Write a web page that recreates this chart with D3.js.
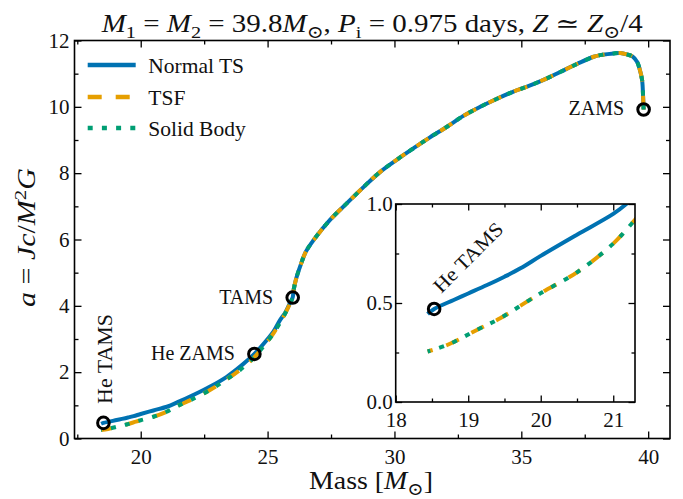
<!DOCTYPE html>
<html>
<head>
<meta charset="utf-8">
<script src="https://cdn.jsdelivr.net/npm/d3@7"></script>
<style>
  html, body { margin: 0; padding: 0; background: #fff; }
  svg { display: block; font-family: "Liberation Serif", "DejaVu Serif", serif; }
  text { white-space: pre; }
</style>
</head>
<body>
<svg id="chart" width="683" height="499"></svg>
<script>
// Shared track from ZAMS through the main sequence to TAMS (mass in Msun, a = Jc/M^2 G)
const upperMass = [39.82, 39.80, 39.76, 39.66, 39.56, 39.38, 39.16, 38.90, 38.64, 38.20, 37.85, 37.19, 36.53, 36.01, 35.30, 34.69, 34.00, 33.38, 32.70, 32.07, 31.40, 30.75, 30.10, 29.44, 28.78, 28.12, 27.46, 26.81, 26.50, 26.28, 26.12, 26.02, 25.99];
const upperA    = [9.92, 10.30, 10.81, 11.15, 11.36, 11.52, 11.58, 11.62, 11.61, 11.57, 11.51, 11.29, 11.05, 10.86, 10.63, 10.46, 10.23, 10.00, 9.72, 9.40, 9.08, 8.75, 8.41, 8.04, 7.58, 7.09, 6.59, 5.98, 5.62, 5.18, 4.80, 4.45, 4.25];

// Post-TAMS branch, Normal TS
const normalTSMass = [25.89, 25.70, 25.49, 25.23, 24.97, 24.48, 24.00, 23.39, 22.70, 22.07, 21.50, 21.18, 21.00, 20.50, 20.00, 19.72, 19.50, 19.26, 19.00, 18.80, 18.53, 18.44];
const normalTSA    = [4.10, 3.80, 3.57, 3.22, 2.97, 2.55, 2.22, 1.86, 1.55, 1.31, 1.11, 1.00, 0.950, 0.845, 0.738, 0.675, 0.633, 0.591, 0.548, 0.515, 0.470, 0.444];

// Post-TAMS branch, TSF
const tsfMass = [25.89, 25.76, 25.50, 25.23, 24.97, 24.70, 24.48, 23.92, 23.30, 22.73, 22.00, 21.50, 21.30, 21.00, 20.50, 20.00, 19.81, 19.44, 19.12, 18.71, 18.44];
const tsfA    = [4.08, 3.87, 3.50, 3.17, 2.90, 2.65, 2.45, 2.07, 1.74, 1.46, 1.17, 1.00, 0.920, 0.800, 0.655, 0.550, 0.507, 0.423, 0.364, 0.288, 0.255];

// Post-TAMS branch, Solid Body (indistinguishable from TSF)
const solidMass = [25.89, 25.76, 25.50, 25.23, 24.97, 24.70, 24.48, 23.92, 23.30, 22.73, 22.00, 21.50, 21.30, 21.00, 20.50, 20.00, 19.81, 19.44, 19.12, 18.71, 18.44];
const solidA    = [4.08, 3.87, 3.50, 3.17, 2.90, 2.65, 2.45, 2.07, 1.74, 1.46, 1.17, 1.00, 0.920, 0.800, 0.655, 0.550, 0.507, 0.423, 0.364, 0.288, 0.255];

// Evolutionary stage markers
const stageNames = ["ZAMS", "TAMS", "He ZAMS", "He TAMS"];
const stageMass  = [39.82, 25.99, 24.48, 18.53];
const stageA     = [9.92, 4.25, 2.55, 0.47];

// Axis ticks
const xTicks = [20, 25, 30, 35, 40];
const xMinorTicks = [17.5, 22.5, 27.5, 32.5, 37.5];
const yTicks = [0, 2, 4, 6, 8, 10, 12];
const yMinorTicks = [1, 3, 5, 7, 9, 11];
const insetXTicks = [18, 19, 20, 21];
const insetXMinorTicks = [18.5, 19.5, 20.5];
const insetYTicks = [0.0, 0.5, 1.0];
const insetYMinorTicks = [0.25, 0.75];

const seriesNames = ["Normal TS", "TSF", "Solid Body"];
const colors = { normal: "#0072B2", tsf: "#E69F00", solid: "#009E73" };

const zip = (m, a) => m.map((v, i) => ({ m: v, a: a[i] }));
const upper = zip(upperMass, upperA);
const normalTS = upper.concat(zip(normalTSMass, normalTSA));
const tsf = upper.concat(zip(tsfMass, tsfA));
const solid = upper.concat(zip(solidMass, solidA));

const svg = d3.select("#chart");

// Main axes frame
const L = 74.5, R = 670, T = 40.5, B = 438.5;
const x = d3.scaleLinear().domain([17.39, 40.86]).range([L, R]);
const y = d3.scaleLinear().domain([0, 12]).range([B, T]);

// Inset frame
const iL = 395.7, iR = 635, iT = 204, iB = 402;
const xi = d3.scaleLinear().domain([18, 21.3]).range([iL, iR]);
const yi = d3.scaleLinear().domain([0, 1]).range([iB, iT]);

const defs = svg.append("defs");
defs.append("clipPath").attr("id", "clipMain").append("rect")
  .attr("x", L).attr("y", T).attr("width", R - L).attr("height", B - T);
defs.append("clipPath").attr("id", "clipInset").append("rect")
  .attr("x", iL).attr("y", iT).attr("width", iR - iL).attr("height", iB - iT);

// Rich text builder for math-like labels
function rich(sel, parts, size) {
  let shift = 0;
  parts.forEach(p => {
    const ts = sel.append("tspan").text(p.t);
    const target = p.sub ? 0.25 * size : p.sup ? -0.38 * size : 0;
    if (target - shift !== 0) ts.attr("dy", target - shift);
    shift = target;
    if (p.sub || p.sup) ts.attr("font-size", size * 0.7);
    if (p.i) ts.attr("font-style", "italic");
  });
  return sel;
}

function drawSeries(g, sx, sy, width) {
  const line = d3.line().x(d => sx(d.m)).y(d => sy(d.a)).curve(d3.curveCatmullRom.alpha(0.5));
  g.append("path").datum(normalTS).attr("d", line).attr("fill", "none")
    .attr("stroke", colors.normal).attr("stroke-width", width);
  g.append("path").datum(tsf).attr("d", line).attr("fill", "none")
    .attr("stroke", colors.tsf).attr("stroke-width", width).attr("stroke-dasharray", "14,14");
  g.append("path").datum(solid).attr("d", line).attr("fill", "none")
    .attr("stroke", colors.solid).attr("stroke-width", width).attr("stroke-dasharray", "5,9.2");
}

// Main curves
const gMain = svg.append("g").attr("clip-path", "url(#clipMain)");
drawSeries(gMain, x, y, 4);

// Main axes
function styleAxis(g, fontSize) {
  g.selectAll(".domain").remove();
  g.selectAll("line").attr("stroke", "#000").attr("stroke-width", 1.3);
  g.selectAll("text").attr("font-family", "Liberation Serif, DejaVu Serif, serif")
    .attr("font-size", fontSize).attr("fill", "#111");
}
const fmtInt = d3.format("d");
svg.append("g").attr("transform", `translate(0,${B})`)
  .call(d3.axisBottom(x).tickValues(xTicks).tickSize(-7).tickPadding(10.5).tickFormat(fmtInt))
  .call(g => styleAxis(g, 21));
svg.append("g").attr("transform", `translate(0,${B})`)
  .call(d3.axisBottom(x).tickValues(xMinorTicks).tickSize(-4).tickFormat(""))
  .call(g => styleAxis(g, 21));
svg.append("g").attr("transform", `translate(0,${T})`)
  .call(d3.axisTop(x).tickValues(xTicks).tickSize(-7).tickFormat(""))
  .call(g => styleAxis(g, 21));
svg.append("g").attr("transform", `translate(0,${T})`)
  .call(d3.axisTop(x).tickValues(xMinorTicks).tickSize(-4).tickFormat(""))
  .call(g => styleAxis(g, 21));
svg.append("g").attr("transform", `translate(${L},0)`)
  .call(d3.axisLeft(y).tickValues(yTicks).tickSize(-7).tickPadding(5).tickFormat(fmtInt))
  .call(g => styleAxis(g, 21));
svg.append("g").attr("transform", `translate(${L},0)`)
  .call(d3.axisLeft(y).tickValues(yMinorTicks).tickSize(-4).tickFormat(""))
  .call(g => styleAxis(g, 21));
svg.append("g").attr("transform", `translate(${R},0)`)
  .call(d3.axisRight(y).tickValues(yTicks).tickSize(-7).tickFormat(""))
  .call(g => styleAxis(g, 21));
svg.append("g").attr("transform", `translate(${R},0)`)
  .call(d3.axisRight(y).tickValues(yMinorTicks).tickSize(-4).tickFormat(""))
  .call(g => styleAxis(g, 21));
svg.append("rect").attr("x", L).attr("y", T).attr("width", R - L).attr("height", B - T)
  .attr("fill", "none").attr("stroke", "#000").attr("stroke-width", 1.6);

// Stage markers and annotations on the main panel
const stages = stageNames.map((n, i) => ({ name: n, m: stageMass[i], a: stageA[i] }));
svg.append("g").selectAll("circle").data(stages).join("circle")
  .attr("cx", d => x(d.m)).attr("cy", d => y(d.a)).attr("r", 5.8)
  .attr("fill", "none").attr("stroke", "#000").attr("stroke-width", 3);

const annFont = 20;
stages.forEach(d => {
  const px = x(d.m), py = y(d.a);
  if (d.name === "He TAMS") {
    svg.append("text").attr("transform", `translate(${px + 8.3},${py - 19}) rotate(-90)`)
      .attr("font-size", annFont).attr("fill", "#111")
      .attr("textLength", 90).attr("lengthAdjust", "spacingAndGlyphs").text(d.name);
  } else {
    svg.append("text").attr("x", px - 19.5).attr("y", py + 6).attr("text-anchor", "end")
      .attr("font-size", annFont).attr("fill", "#111").text(d.name);
  }
});

// Legend
const legendY = [65, 97, 128];
const legendStyles = [
  { c: colors.normal, dash: null },
  { c: colors.tsf, dash: "14,14" },
  { c: colors.solid, dash: "5,9.2" }
];
seriesNames.forEach((name, i) => {
  const ln = svg.append("line").attr("x1", 87.7).attr("x2", 135.7)
    .attr("y1", legendY[i]).attr("y2", legendY[i])
    .attr("stroke", legendStyles[i].c).attr("stroke-width", 4.5);
  if (legendStyles[i].dash) ln.attr("stroke-dasharray", legendStyles[i].dash);
  svg.append("text").attr("x", 148.3).attr("y", legendY[i] + 7.5)
    .attr("font-size", 21.5).attr("fill", "#111").text(name);
});

// Inset: zoom on the He-star end of the track
svg.append("rect").attr("x", iL).attr("y", iT).attr("width", iR - iL).attr("height", iB - iT)
  .attr("fill", "#fff");
const gInset = svg.append("g").attr("clip-path", "url(#clipInset)");
drawSeries(gInset, xi, yi, 4);

svg.append("g").attr("transform", `translate(0,${iB})`)
  .call(d3.axisBottom(xi).tickValues(insetXTicks).tickSize(-6.5).tickPadding(10.5).tickFormat(fmtInt))
  .call(g => styleAxis(g, 21));
svg.append("g").attr("transform", `translate(0,${iB})`)
  .call(d3.axisBottom(xi).tickValues(insetXMinorTicks).tickSize(-3.5).tickFormat(""))
  .call(g => styleAxis(g, 21));
svg.append("g").attr("transform", `translate(0,${iT})`)
  .call(d3.axisTop(xi).tickValues(insetXTicks).tickSize(-6.5).tickFormat(""))
  .call(g => styleAxis(g, 21));
svg.append("g").attr("transform", `translate(0,${iT})`)
  .call(d3.axisTop(xi).tickValues(insetXMinorTicks).tickSize(-3.5).tickFormat(""))
  .call(g => styleAxis(g, 21));
svg.append("g").attr("transform", `translate(${iL},0)`)
  .call(d3.axisLeft(yi).tickValues(insetYTicks).tickSize(-6.5).tickPadding(3).tickFormat(d3.format(".1f")))
  .call(g => styleAxis(g, 21));
svg.append("g").attr("transform", `translate(${iL},0)`)
  .call(d3.axisLeft(yi).tickValues(insetYMinorTicks).tickSize(-3.5).tickFormat(""))
  .call(g => styleAxis(g, 21));
svg.append("g").attr("transform", `translate(${iR},0)`)
  .call(d3.axisRight(yi).tickValues(insetYTicks).tickSize(-6.5).tickFormat(""))
  .call(g => styleAxis(g, 21));
svg.append("g").attr("transform", `translate(${iR},0)`)
  .call(d3.axisRight(yi).tickValues(insetYMinorTicks).tickSize(-3.5).tickFormat(""))
  .call(g => styleAxis(g, 21));
svg.append("rect").attr("x", iL).attr("y", iT).attr("width", iR - iL).attr("height", iB - iT)
  .attr("fill", "none").attr("stroke", "#000").attr("stroke-width", 1.6);

const heTAMS = stages[3];
svg.append("circle").attr("cx", xi(heTAMS.m)).attr("cy", yi(heTAMS.a)).attr("r", 5.8)
  .attr("fill", "none").attr("stroke", "#000").attr("stroke-width", 3);
svg.append("text")
  .attr("transform", `translate(${xi(heTAMS.m) + 7},${yi(heTAMS.a) - 15}) rotate(-45)`)
  .attr("font-size", annFont).attr("fill", "#111")
  .attr("textLength", 90).attr("lengthAdjust", "spacingAndGlyphs").text(heTAMS.name);

// Title
rich(svg.append("text").attr("x", 101.7).attr("y", 31.7)
  .attr("font-size", 25).attr("fill", "#111")
  .attr("textLength", 541).attr("lengthAdjust", "spacingAndGlyphs"), [
  { t: "M", i: 1 }, { t: "1", sub: 1 }, { t: " = " }, { t: "M", i: 1 }, { t: "2", sub: 1 },
  { t: " = 39.8" }, { t: "M", i: 1 }, { t: "⊙", sub: 1 }, { t: ", " },
  { t: "P", i: 1 }, { t: "i", sub: 1 }, { t: " = 0.975 days, " },
  { t: "Z", i: 1 }, { t: " ≃ " }, { t: "Z", i: 1 }, { t: "⊙", sub: 1 }, { t: "/4" }
], 25);

// Axis labels
rich(svg.append("text").attr("x", 309).attr("y", 489)
  .attr("font-size", 25).attr("fill", "#111")
  .attr("textLength", 124).attr("lengthAdjust", "spacingAndGlyphs"), [
  { t: "Mass [" }, { t: "M", i: 1 }, { t: "⊙", sub: 1 }, { t: "]" }
], 25);
rich(svg.append("text").attr("transform", `translate(35,307) rotate(-90)`)
  .attr("font-size", 25).attr("fill", "#111")
  .attr("textLength", 139).attr("lengthAdjust", "spacingAndGlyphs"), [
  { t: "a", i: 1 }, { t: " = " }, { t: "Jc", i: 1 }, { t: "/" }, { t: "M", i: 1 },
  { t: "2", sup: 1 }, { t: "G", i: 1 }
], 25);
</script>
</body>
</html>
